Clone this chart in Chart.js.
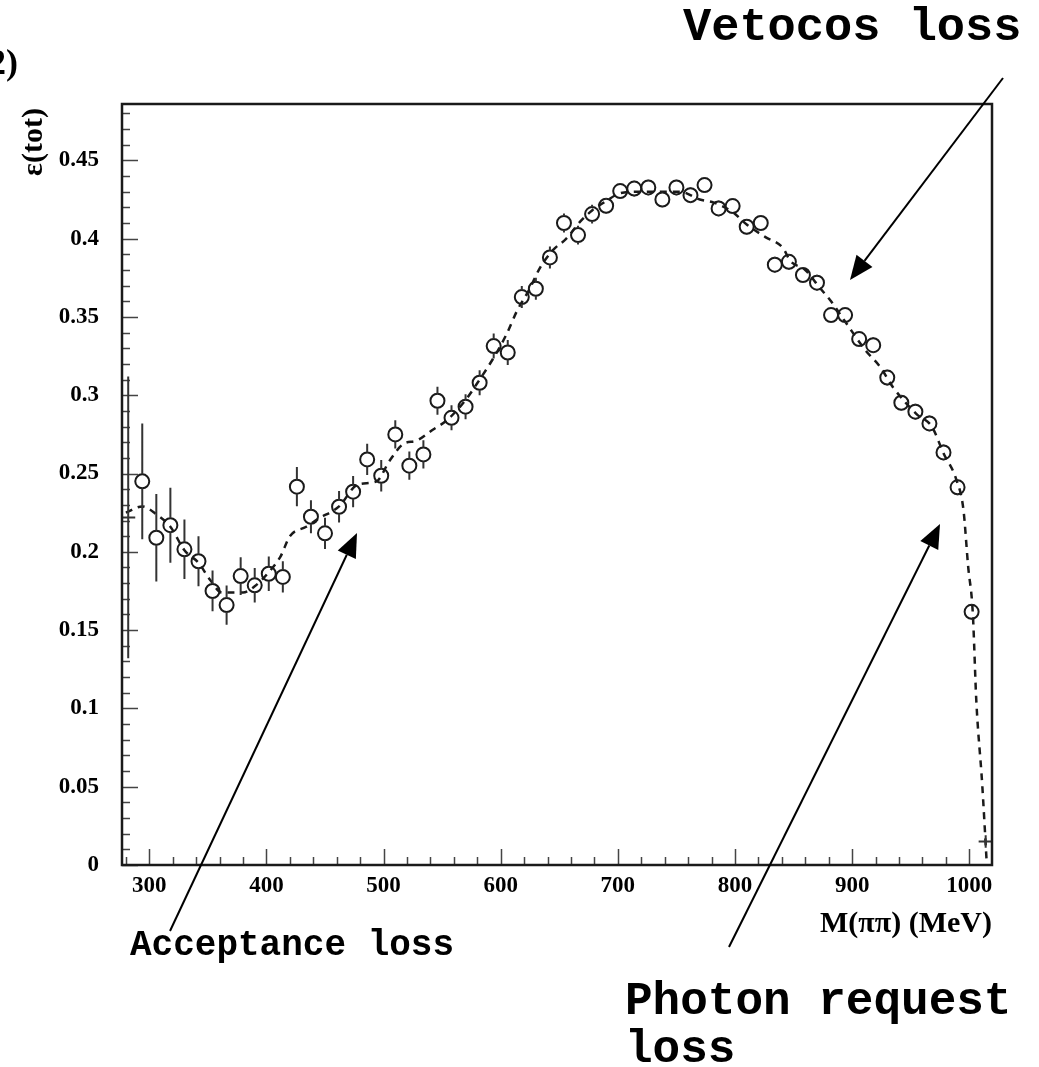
<!DOCTYPE html>
<html>
<head>
<meta charset="utf-8">
<script src="https://cdn.jsdelivr.net/npm/chart.js@4.4.1/dist/chart.umd.min.js"></script>
<style>
  html, body { margin: 0; padding: 0; background: #fff; }
  #wrap { position: relative; width: 1039px; height: 1067px; }
</style>
</head>
<body>
<div id="wrap"><canvas id="effChart" width="1039" height="1067"></canvas></div>
<script>
// measured efficiency per 12 MeV bin
const massBins = [294, 306, 318, 330, 342, 354, 366, 378, 390, 402,
                  414, 426, 438, 450, 462, 474, 486, 498, 510, 522,
                  534, 546, 558, 570, 582, 594, 606, 618, 630, 642,
                  654, 666, 678, 690, 702, 714, 726, 738, 750, 762,
                  774, 786, 798, 810, 822, 834, 846, 858, 870, 882,
                  894, 906, 918, 930, 942, 954, 966, 978, 990, 1002];
const efficiency = [0.245, 0.209, 0.217, 0.2016, 0.194, 0.175, 0.166, 0.1845, 0.1786, 0.186,
                    0.184, 0.2416, 0.2224, 0.2118, 0.2288, 0.2384, 0.259, 0.2486, 0.275, 0.255,
                    0.2622, 0.2965, 0.2856, 0.2927, 0.308, 0.3314, 0.3273, 0.3627, 0.368, 0.388,
                    0.410, 0.4023, 0.4157, 0.421, 0.4304, 0.432, 0.4327, 0.425, 0.4327, 0.4278,
                    0.4342, 0.4193, 0.4208, 0.4076, 0.410, 0.3834, 0.3852, 0.3768, 0.3719, 0.3512,
                    0.3512, 0.3359, 0.332, 0.3113, 0.2952, 0.2895, 0.282, 0.2635, 0.2412, 0.1617];
const efficiencyErr = [0.037, 0.028, 0.024, 0.019, 0.016, 0.013, 0.0125, 0.012, 0.011, 0.011,
                       0.010, 0.0125, 0.0105, 0.010, 0.010, 0.010, 0.010, 0.010, 0.009, 0.009,
                       0.009, 0.009, 0.008, 0.008, 0.008, 0.008, 0.008, 0.007, 0.007, 0.007,
                       0.006, 0.006, 0.006, 0.005, 0.005, 0.005, 0.005, 0.005, 0.005, 0.005,
                       0.005, 0.005, 0.005, 0.005, 0.005, 0.005, 0.005, 0.005, 0.005, 0.005,
                       0.005, 0.005, 0.005, 0.005, 0.005, 0.005, 0.005, 0.005, 0.005, 0.005];

// first and last bins, drawn as bare crosses
const edgeBins = [282, 1014];
const edgeValues = [0.222, 0.015];
const edgeErr = [0.09, 0.004];
const edgeHalfWidth = 6;

// simulated efficiency curve
const curveMass = [280, 294, 306, 318, 330, 342, 352, 362, 380, 390,
                   402, 412, 420, 434, 444, 462, 478, 494, 505, 517,
                   528, 542, 554, 570, 582, 594, 605, 614, 624, 634,
                   645, 656, 668, 678, 690, 702, 718, 736, 753, 770,
                   782, 798, 810, 826, 841, 847, 860, 872, 882, 895,
                   911, 924, 935, 955, 968, 978, 989, 995, 999, 1003,
                   1006, 1011, 1015];
const curveEff = [0.225, 0.229, 0.224, 0.216, 0.201, 0.193, 0.182, 0.174, 0.174, 0.178,
                  0.187, 0.197, 0.210, 0.216, 0.221, 0.229, 0.243, 0.245, 0.258, 0.269,
                  0.271, 0.278, 0.284, 0.297, 0.310, 0.324, 0.339, 0.354, 0.367, 0.382,
                  0.393, 0.400, 0.411, 0.418, 0.424, 0.429, 0.430, 0.430, 0.430, 0.425,
                  0.423, 0.417, 0.409, 0.401, 0.394, 0.386, 0.380, 0.369, 0.360, 0.346,
                  0.329, 0.318, 0.305, 0.288, 0.280, 0.263, 0.246, 0.227, 0.191, 0.161,
                  0.105, 0.052, 0.0];

const xTicks = [300, 400, 500, 600, 700, 800, 900, 1000];
const yTicks = [0, 0.05, 0.1, 0.15, 0.2, 0.25, 0.3, 0.35, 0.4, 0.45];

const INK = '#1a1a1a';
const MARKER_R = 7;
const SERIF = '"Liberation Serif", "Times New Roman", serif';
const MONO = '"Liberation Mono", "Courier New", monospace';

const toXY = (xs, ys) => xs.map((x, i) => ({x: x, y: ys[i]}));

// frame, inward ticks, error bars
const frameAndBars = {
    id: 'frameAndBars',
    afterDatasetsDraw(chart) {
        const ctx = chart.ctx;
        const a = chart.chartArea;
        const xs = chart.scales.x;
        const ys = chart.scales.y;
        ctx.save();

        // minor/major ticks pointing into the plot
        ctx.strokeStyle = '#444';
        ctx.lineWidth = 1.5;
        ctx.beginPath();
        for (let k = 0; k <= 48; k++) {
            const py = Math.round(ys.getPixelForValue(k / 100)) + 0.5;
            const len = k % 5 === 0 ? 16 : 8;
            ctx.moveTo(a.left, py);
            ctx.lineTo(a.left + len, py);
        }
        for (let m = 280; m <= 1000; m += 20) {
            const px = Math.round(xs.getPixelForValue(m)) + 0.5;
            const len = m % 100 === 0 ? 16 : 8;
            ctx.moveTo(px, a.bottom);
            ctx.lineTo(px, a.bottom - len);
        }
        ctx.stroke();

        // vertical error bars, stopped at the open marker
        ctx.strokeStyle = '#333';
        ctx.lineWidth = 2;
        ctx.beginPath();
        massBins.forEach((m, i) => {
            const px = xs.getPixelForValue(m);
            const cy = ys.getPixelForValue(efficiency[i]);
            const top = ys.getPixelForValue(efficiency[i] + efficiencyErr[i]);
            const bot = ys.getPixelForValue(efficiency[i] - efficiencyErr[i]);
            if (cy - MARKER_R > top) {
                ctx.moveTo(px, top);
                ctx.lineTo(px, cy - MARKER_R);
            }
            if (cy + MARKER_R < bot) {
                ctx.moveTo(px, cy + MARKER_R);
                ctx.lineTo(px, bot);
            }
        });
        edgeBins.forEach((m, i) => {
            const px = xs.getPixelForValue(m);
            const cy = ys.getPixelForValue(edgeValues[i]);
            ctx.moveTo(px, ys.getPixelForValue(edgeValues[i] + edgeErr[i]));
            ctx.lineTo(px, ys.getPixelForValue(edgeValues[i] - edgeErr[i]));
            ctx.moveTo(xs.getPixelForValue(m - edgeHalfWidth), cy);
            ctx.lineTo(Math.min(xs.getPixelForValue(m + edgeHalfWidth), a.right), cy);
        });
        ctx.stroke();

        // box
        ctx.strokeStyle = INK;
        ctx.lineWidth = 2.5;
        ctx.strokeRect(a.left, a.top, a.right - a.left, a.bottom - a.top);
        ctx.restore();
    }
};

function arrow(ctx, x0, y0, x1, y1) {
    const ang = Math.atan2(y1 - y0, x1 - x0);
    const hl = 24, hw = 10;
    const bx = x1 - hl * Math.cos(ang), by = y1 - hl * Math.sin(ang);
    ctx.beginPath();
    ctx.moveTo(x0, y0);
    ctx.lineTo(bx, by);
    ctx.stroke();
    ctx.beginPath();
    ctx.moveTo(x1, y1);
    ctx.lineTo(bx + hw * Math.sin(ang), by - hw * Math.cos(ang));
    ctx.lineTo(bx - hw * Math.sin(ang), by + hw * Math.cos(ang));
    ctx.closePath();
    ctx.fill();
}

// axis titles and the loss annotations
const labels = {
    id: 'labels',
    afterDraw(chart) {
        const ctx = chart.ctx;
        const a = chart.chartArea;
        ctx.save();
        ctx.fillStyle = '#000';
        ctx.strokeStyle = '#000';
        ctx.lineWidth = 2;

        ctx.font = 'bold 30px ' + SERIF;
        ctx.textAlign = 'right';
        ctx.textBaseline = 'alphabetic';
        ctx.fillText('M(\u03c0\u03c0) (MeV)', a.right, 932);

        ctx.font = 'bold 36px ' + SERIF;
        ctx.fillText('(2)', 18, 74);

        ctx.save();
        ctx.translate(42, 142);
        ctx.rotate(-Math.PI / 2);
        ctx.textAlign = 'center';
        ctx.font = 'bold 30px ' + SERIF;
        ctx.fillText('\u03b5(tot)', 0, 0);
        ctx.restore();

        ctx.textAlign = 'left';
        ctx.font = 'bold 47px ' + MONO;
        ctx.fillText('Vetocos loss', 683, 40);
        ctx.font = 'bold 36px ' + MONO;
        ctx.fillText('Acceptance loss', 130, 955);
        ctx.font = 'bold 46px ' + MONO;
        ctx.fillText('Photon request', 625, 1014);
        ctx.fillText('loss', 625, 1062);

        arrow(ctx, 1003, 78, 850, 280);
        arrow(ctx, 170, 931, 357, 533);
        arrow(ctx, 729, 947, 940, 524);
        ctx.restore();
    }
};

new Chart(document.getElementById('effChart'), {
    type: 'scatter',
    data: {
        datasets: [{
            label: 'curve',
            data: toXY(curveMass, curveEff),
            showLine: true,
            borderColor: INK,
            borderWidth: 2.5,
            borderDash: [7, 6],
            pointRadius: 0,
            cubicInterpolationMode: 'monotone',
            fill: false
        }, {
            label: 'data',
            data: toXY(massBins, efficiency),
            showLine: false,
            pointRadius: MARKER_R,
            pointBorderWidth: 2,
            pointBorderColor: INK,
            pointBackgroundColor: 'rgba(0,0,0,0)'
        }]
    },
    options: {
        responsive: false,
        animation: false,
        devicePixelRatio: 1,
        layout: {padding: {top: 104, right: 47, bottom: 162, left: 0}},
        plugins: {legend: {display: false}, tooltip: {enabled: false}},
        scales: {
            x: {
                type: 'linear',
                min: 276.7,
                max: 1019.4,
                afterFit: s => { s.height = 40; },
                afterBuildTicks: s => { s.ticks = xTicks.map(v => ({value: v})); },
                grid: {display: false, drawTicks: false},
                border: {display: false},
                ticks: {
                    padding: 7,
                    color: '#000',
                    maxRotation: 0,
                    callback: v => String(v),
                    font: {family: SERIF, size: 23, weight: 'bold'}
                }
            },
            y: {
                type: 'linear',
                min: 0,
                max: 0.486,
                afterFit: s => { s.width = 122; },
                afterBuildTicks: s => { s.ticks = yTicks.map(v => ({value: v})); },
                grid: {display: false, drawTicks: false},
                border: {display: false},
                ticks: {
                    padding: 23,
                    color: '#000',
                    callback: v => String(v),
                    font: {family: SERIF, size: 23, weight: 'bold'}
                }
            }
        }
    },
    plugins: [frameAndBars, labels]
});
</script>
</body>
</html>
